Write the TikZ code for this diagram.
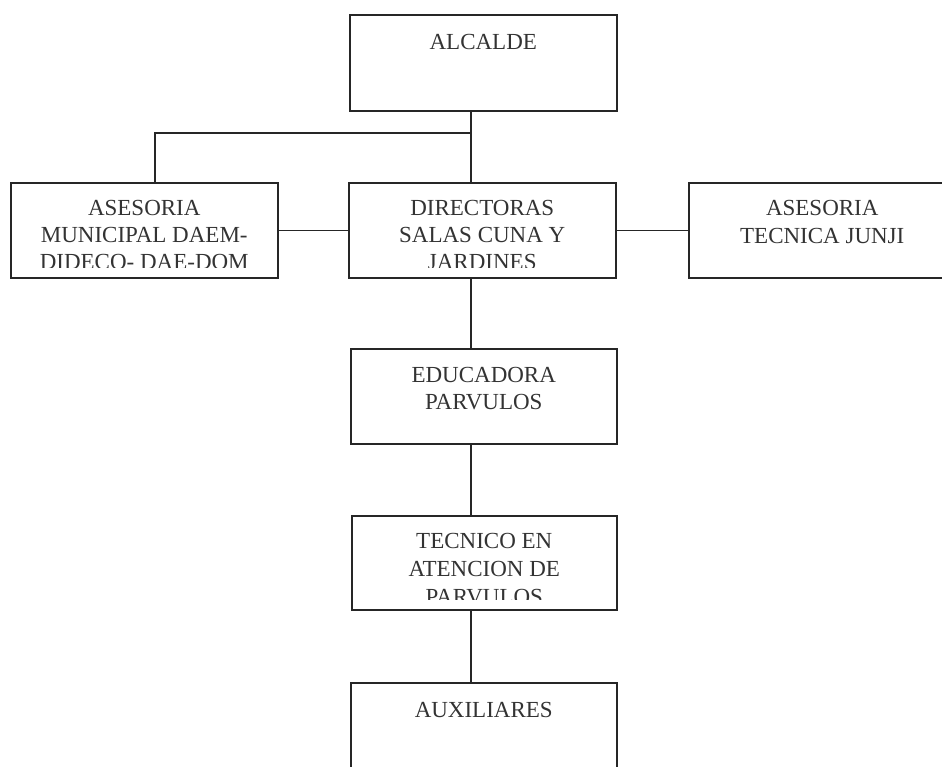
\documentclass[tikz,border=0pt]{standalone}
\usepackage{fontspec}
\setmainfont{Liberation Serif}
\usetikzlibrary{calc}

\begin{document}
\begin{tikzpicture}[x=0.5pt, y=-0.5pt, line width=0.75pt, draw=black!85,
    caja/.style={draw=black!85, rectangle, anchor=north west, inner sep=0pt,
        minimum width=133.5pt, minimum height=47.5pt},
    txt/.style={anchor=north, inner sep=0pt, align=center, text=black!80,
        font=\fontsize{11.5}{13.5}\selectfont},
    txtb/.style={txt, font=\fontsize{11.5}{14}\selectfont}]
            \useasboundingbox (0,0) rectangle (942,766);
            \clip (0,0) rectangle (942,766);

            % Boxes
            \node[caja, minimum height=48pt] (alcalde) at (349,14) {};
            \node[caja] (asesmun) at (10,182) {};
            \node[caja] (dir) at (348,182) {};
            \node[caja] (asestec) at (688,182) {};
            \node[caja, minimum width=133pt] (edu) at (350,348) {};
            \node[caja, minimum width=132.5pt, minimum height=47pt] (tec) at (351,515) {};
            \node[caja, minimum width=133pt] (aux) at (350,682) {};

            % Texts
            \node[txt] (alcalde-t) at ([yshift=-10pt]alcalde.north) {ALCALDE};
            \begin{scope}
                \clip (asesmun.north west) rectangle ([yshift=5.5pt]asesmun.south east);
                \node[txt] (asesmun-t) at ([yshift=-9pt]asesmun.north) {ASESORIA\\MUNICIPAL DAEM-\\DIDECO- DAE-DOM};
            \end{scope}
            \begin{scope}
                \clip (dir.north west) rectangle ([yshift=5.5pt]dir.south east);
                \node[txt] (dir-t) at ([yshift=-9pt]dir.north) {DIRECTORAS\\SALAS CUNA Y\\JARDINES};
            \end{scope}
            \node[txtb] (asestec-t) at ([yshift=-9pt]asestec.north) {ASESORIA\\TECNICA JUNJI};
            \node[txt] (edu-t) at ([yshift=-9.5pt]edu.north) {EDUCADORA\\PARVULOS};
            \begin{scope}
                \clip (tec.north west) rectangle ([yshift=5.5pt]tec.south east);
                \node[txtb] (tec-t) at ([yshift=-9pt]tec.north) {TECNICO EN\\ATENCION DE\\PARVULOS};
            \end{scope}
            \node[txt] (aux-t) at ([yshift=-10pt]aux.north) {AUXILIARES};

            % Connectors
            \coordinate (col) at (471,133);
            \coordinate (izq) at (155,133);
            \draw (col |- alcalde.south) -- (col |- dir.north);
            \draw (col) -- (izq) -- (izq |- asesmun.north);
            \draw (asesmun.east) -- (dir.west);
            \draw (dir.east) -- (asestec.west);
            \draw (col |- dir.south) -- (col |- edu.north);
            \draw (col |- edu.south) -- (col |- tec.north);
            \draw (col |- tec.south) -- (col |- aux.north);
        \end{tikzpicture}
\end{document}
